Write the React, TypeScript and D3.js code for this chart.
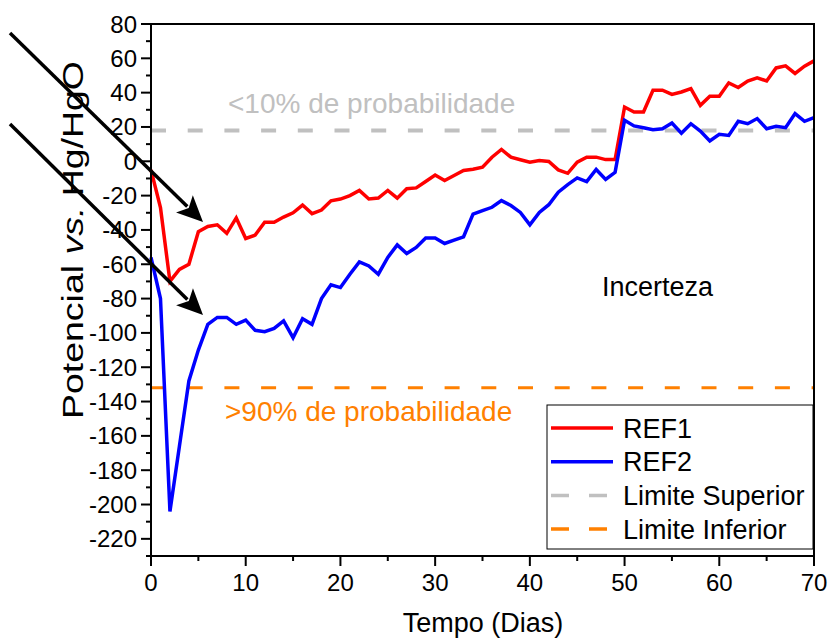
import React from "react";
import * as d3 from "d3";

const days: number[] = Array.from({ length: 71 }, (_, i) => i);
const ref1: number[] = [
  -5, -27, -70, -63, -60, -41, -38, -37, -42, -33,
  -45, -43, -35.5, -35.5, -32.5, -30, -25.5, -30.5, -28.4, -23,
  -22, -20, -17, -22, -21.4, -17, -21.5, -16, -15.5, -11.8,
  -8, -11.2, -8.3, -5.4, -4.6, -3.4, 2.4, 6.9, 2.4, 0.9,
  -0.5, 0.5, -0.1, -5, -7, -0.5, 2.4, 2.4, 1, 1,
  31.6, 28.7, 28.7, 41.4, 41.4, 39, 40.4, 42.4, 32.6, 37.9,
  37.9, 45.7, 43, 46.8, 48.6, 46.8, 54.4, 55.6, 51.2, 55.4,
  58.5,
];
const ref2: number[] = [
  -56, -80, -204, -166, -128, -110, -95, -91, -91, -95,
  -92.5, -98.5, -99.3, -97.4, -93, -102.8, -91.7, -95, -80, -72,
  -73.6, -65.8, -58.6, -61, -65.8, -56, -48.7, -53.7, -50.2, -44.7,
  -44.7, -47.9, -45.9, -44, -30.8, -28.8, -26.8, -22.9, -25.8, -29.8,
  -37, -29.8, -25.3, -18, -13.6, -9.7, -11.8, -4.8, -10.6, -6.4,
  23.9, 20.6, 19.5, 18.4, 19, 22.3, 16.4, 21.9, 17.6, 11.8,
  15.7, 15.1, 23.3, 21.9, 24.9, 19, 20.4, 19.6, 27.8, 23.3,
  25.4,
];
const limiteSuperior = 18;
const limiteInferior = -132;
const xTicks: number[] = [0, 10, 20, 30, 40, 50, 60, 70];
const xMinor: number[] = [5, 15, 25, 35, 45, 55, 65];
const yTicks: number[] = [80, 60, 40, 20, 0, -20, -40, -60, -80, -100, -120, -140, -160, -180, -200, -220];
const yMinor: number[] = [70, 50, 30, 10, -10, -30, -50, -70, -90, -110, -130, -150, -170, -190, -210, -230];
const legendLabels: string[] = ["REF1", "REF2", "Limite Superior", "Limite Inferior"];

const FONT = "'Liberation Sans', Arial, Helvetica, sans-serif";

export default function App() {
  const x = d3.scaleLinear().domain([0, 70]).range([151, 814]);
  const y = d3.scaleLinear().domain([-230, 80]).range([556, 24]);
  const line = d3
    .line<number>()
    .x((_, i) => x(days[i]))
    .y((d) => y(d));

  const arrow = (x1: number, y1: number, x2: number, y2: number, key: string) => {
    const ang = Math.atan2(y2 - y1, x2 - x1);
    const L = 26;
    const W = 12;
    const bx = x2 - L * Math.cos(ang);
    const by = y2 - L * Math.sin(ang);
    const px = -Math.sin(ang) * W;
    const py = Math.cos(ang) * W;
    return (
      <g key={key}>
        <line x1={x1} y1={y1} x2={bx + 4 * Math.cos(ang)} y2={by + 4 * Math.sin(ang)} stroke="#000" strokeWidth={3.5} />
        <polygon points={`${x2},${y2} ${bx + px},${by + py} ${bx + 6 * Math.cos(ang)},${by + 6 * Math.sin(ang)} ${bx - px},${by - py}`} fill="#000" />
      </g>
    );
  };

  const legendColors = ["#ff0000", "#0000ff", "#c0c0c0", "#ff8000"];
  const legendDash = [null, null, "18 20", "18 20"];

  return (
    <svg width={829} height={638} style={{ position: "absolute", left: 0, top: 0, background: "#fff" }} fontFamily={FONT}>
      <rect x={0} y={0} width={829} height={638} fill="#fff" />
      {/* limit lines */}
      <line x1={x(0)} x2={x(70)} y1={y(limiteSuperior)} y2={y(limiteSuperior)} stroke="#c0c0c0" strokeWidth={4} strokeDasharray="15 21.7" />
      <line x1={x(0)} x2={x(70)} y1={y(limiteInferior)} y2={y(limiteInferior)} stroke="#ff8000" strokeWidth={3} strokeDasharray="15 21.7" />
      {/* series */}
      <path d={line(ref1) || ""} fill="none" stroke="#ff0000" strokeWidth={3.5} strokeLinejoin="miter" />
      <path d={line(ref2) || ""} fill="none" stroke="#0000ff" strokeWidth={3.5} strokeLinejoin="miter" />
      {/* frame */}
      <line x1={151} x2={815} y1={24} y2={24} stroke="#000" strokeWidth={2} />
      <line x1={814} x2={814} y1={24} y2={557} stroke="#000" strokeWidth={2} />
      <line x1={151} x2={151} y1={23} y2={557} stroke="#000" strokeWidth={2} />
      <line x1={150} x2={815} y1={556} y2={556} stroke="#000" strokeWidth={2} />
      {/* y ticks */}
      {yTicks.map((t) => (
        <g key={"yt" + t}>
          <line x1={141} x2={151} y1={y(t)} y2={y(t)} stroke="#000" strokeWidth={2} />
          <text x={137} y={y(t) + 8.5} textAnchor="end" fontSize={24} fill="#000">{t}</text>
        </g>
      ))}
      {yMinor.map((t) => (
        <line key={"ym" + t} x1={146} x2={151} y1={y(t)} y2={y(t)} stroke="#000" strokeWidth={2} />
      ))}
      {/* x ticks */}
      {xTicks.map((t) => (
        <g key={"xt" + t}>
          <line x1={x(t)} x2={x(t)} y1={556} y2={566} stroke="#000" strokeWidth={2} />
          <text x={x(t)} y={591} textAnchor="middle" fontSize={24} fill="#000">{t}</text>
        </g>
      ))}
      {xMinor.map((t) => (
        <line key={"xm" + t} x1={x(t)} x2={x(t)} y1={556} y2={561} stroke="#000" strokeWidth={2} />
      ))}
      {/* axis titles */}
      <text x={483} y={632} textAnchor="middle" fontSize={27} fill="#000">Tempo (Dias)</text>
      <text transform="translate(83,240) rotate(-90)" textAnchor="middle" fontSize={30} fill="#000" textLength={358} lengthAdjust="spacingAndGlyphs">
        Potencial <tspan fontStyle="italic">vs.</tspan> Hg/HgO
      </text>
      {/* annotations */}
      <text x={228} y={113} fontSize={28} fill="#c0c0c0">&lt;10% de probabilidade</text>
      <text x={225} y={421} fontSize={28} fill="#ff8000">&gt;90% de probabilidade</text>
      <text x={602} y={296} fontSize={27} fill="#000">Incerteza</text>
      {/* arrows */}
      {arrow(10, 33, 203, 222, "a1")}
      {arrow(10, 124, 203, 315, "a2")}
      {/* legend */}
      <rect x={547} y={405} width={266} height={144} fill="#fff" stroke="#000" strokeWidth={1} />
      {legendLabels.map((lab, i) => {
        const cy = 428 + i * 33.7;
        return (
          <g key={lab}>
            <line x1={551} x2={613} y1={cy} y2={cy} stroke={legendColors[i]} strokeWidth={3.5} strokeDasharray={legendDash[i] || undefined} />
            <text x={623} y={cy + 9.5} fontSize={27} fill="#000">{lab}</text>
          </g>
        );
      })}
    </svg>
  );
}
